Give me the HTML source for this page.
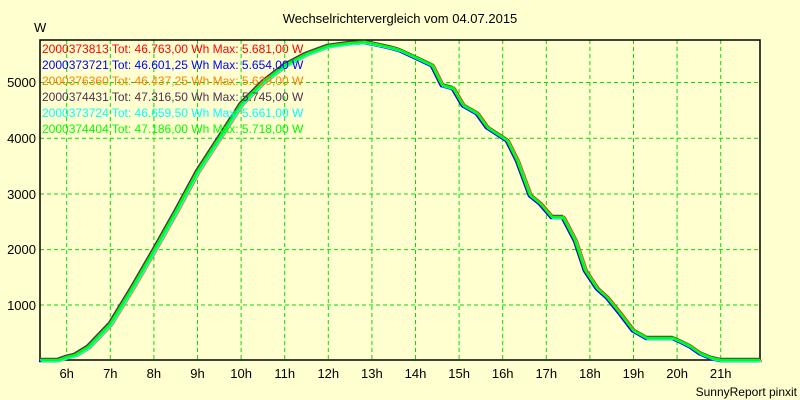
<!DOCTYPE html><html><head><style>body{margin:0;background:#ffffd0}svg{display:block;font-family:"Liberation Sans",sans-serif}</style></head><body>
<svg width="800" height="400" viewBox="0 0 800 400">
<rect width="800" height="400" fill="#ffffd0"/>
<text x="400" y="23" font-size="13" text-anchor="middle">Wechselrichtervergleich vom 04.07.2015</text>
<text x="34" y="32" font-size="13">W</text>
<g stroke="#00e000" stroke-dasharray="4,3" stroke-width="1">
<line x1="40" x2="760" y1="305" y2="305"/><line x1="40" x2="760" y1="249.6" y2="249.6"/><line x1="40" x2="760" y1="194" y2="194"/><line x1="40" x2="760" y1="138.3" y2="138.3"/><line x1="40" x2="760" y1="82.5" y2="82.5"/>
<line x1="66.7" x2="66.7" y1="40" y2="360"/><line x1="110.3" x2="110.3" y1="40" y2="360"/><line x1="153.9" x2="153.9" y1="40" y2="360"/><line x1="197.5" x2="197.5" y1="40" y2="360"/><line x1="241.1" x2="241.1" y1="40" y2="360"/><line x1="284.7" x2="284.7" y1="40" y2="360"/><line x1="328.3" x2="328.3" y1="40" y2="360"/><line x1="371.9" x2="371.9" y1="40" y2="360"/><line x1="415.5" x2="415.5" y1="40" y2="360"/><line x1="459.1" x2="459.1" y1="40" y2="360"/><line x1="502.7" x2="502.7" y1="40" y2="360"/><line x1="546.3" x2="546.3" y1="40" y2="360"/><line x1="589.9" x2="589.9" y1="40" y2="360"/><line x1="633.5" x2="633.5" y1="40" y2="360"/><line x1="677.1" x2="677.1" y1="40" y2="360"/><line x1="720.7" x2="720.7" y1="40" y2="360"/>
</g>
<rect x="40" y="40" width="720" height="320" fill="none" stroke="#000" stroke-width="1.5"/>
<g font-size="13" text-anchor="end"><text x="36" y="310">1000</text><text x="36" y="254">2000</text><text x="36" y="199">3000</text><text x="36" y="143">4000</text><text x="36" y="87">5000</text></g>
<g font-size="13" text-anchor="middle"><text x="66.7" y="378">6h</text><text x="110.3" y="378">7h</text><text x="153.9" y="378">8h</text><text x="197.5" y="378">9h</text><text x="241.1" y="378">10h</text><text x="284.7" y="378">11h</text><text x="328.3" y="378">12h</text><text x="371.9" y="378">13h</text><text x="415.5" y="378">14h</text><text x="459.1" y="378">15h</text><text x="502.7" y="378">16h</text><text x="546.3" y="378">17h</text><text x="589.9" y="378">18h</text><text x="633.5" y="378">19h</text><text x="677.1" y="378">20h</text><text x="720.7" y="378">21h</text></g>
<text x="797" y="396" font-size="12" text-anchor="end">SunnyReport pinxit</text>
<defs><polyline id="c" fill="none" stroke-width="2.5" points="40,360 58,360 66.7,357 75,355 88,347 110,324 132,288 154,250 176,211 197,172 219,138 241,104 263,82 285,65 306,54 328,46 350,43 365,42 380,45 393,48 400,50 415,57 432,65 442,85 453,88 463,105 477,113 487,127 507,140 517,160 530,195 540,203 552,217 563,217 575,240 585,270 597,288 607,297 620,313 633,330 647,338 660,338 673,338 680,341 690,346 700,353 712,358 721,360 760,360"/></defs>
<use href="#c" stroke="#ff8000" transform="translate(2,1)"/>
<use href="#c" stroke="#ff0000" transform="translate(1,0)"/>
<use href="#c" stroke="#0000ff" transform="translate(-1,1)"/>
<use href="#c" stroke="#503050" transform="translate(-1,-1)"/>
<use href="#c" stroke="#00ffff" transform="translate(1,1)"/>
<use href="#c" stroke="#00ff00"/>
<g font-size="12"><text x="42" y="53" fill="#ff0000">2000373813 Tot: 46.763,00 Wh Max: 5.681,00 W</text>
<text x="42" y="69" fill="#0000ff">2000373721 Tot: 46.601,25 Wh Max: 5.654,00 W</text>
<text x="42" y="85" fill="#ff8000">2000376360 Tot: 46.437,25 Wh Max: 5.629,00 W</text>
<text x="42" y="101" fill="#503050">2000374431 Tot: 47.316,50 Wh Max: 5.745,00 W</text>
<text x="42" y="117" fill="#00ffff">2000373724 Tot: 46.659,50 Wh Max: 5.661,00 W</text>
<text x="42" y="133" fill="#00ff00">2000374404 Tot: 47.186,00 Wh Max: 5.718,00 W</text></g>
</svg></body></html>
